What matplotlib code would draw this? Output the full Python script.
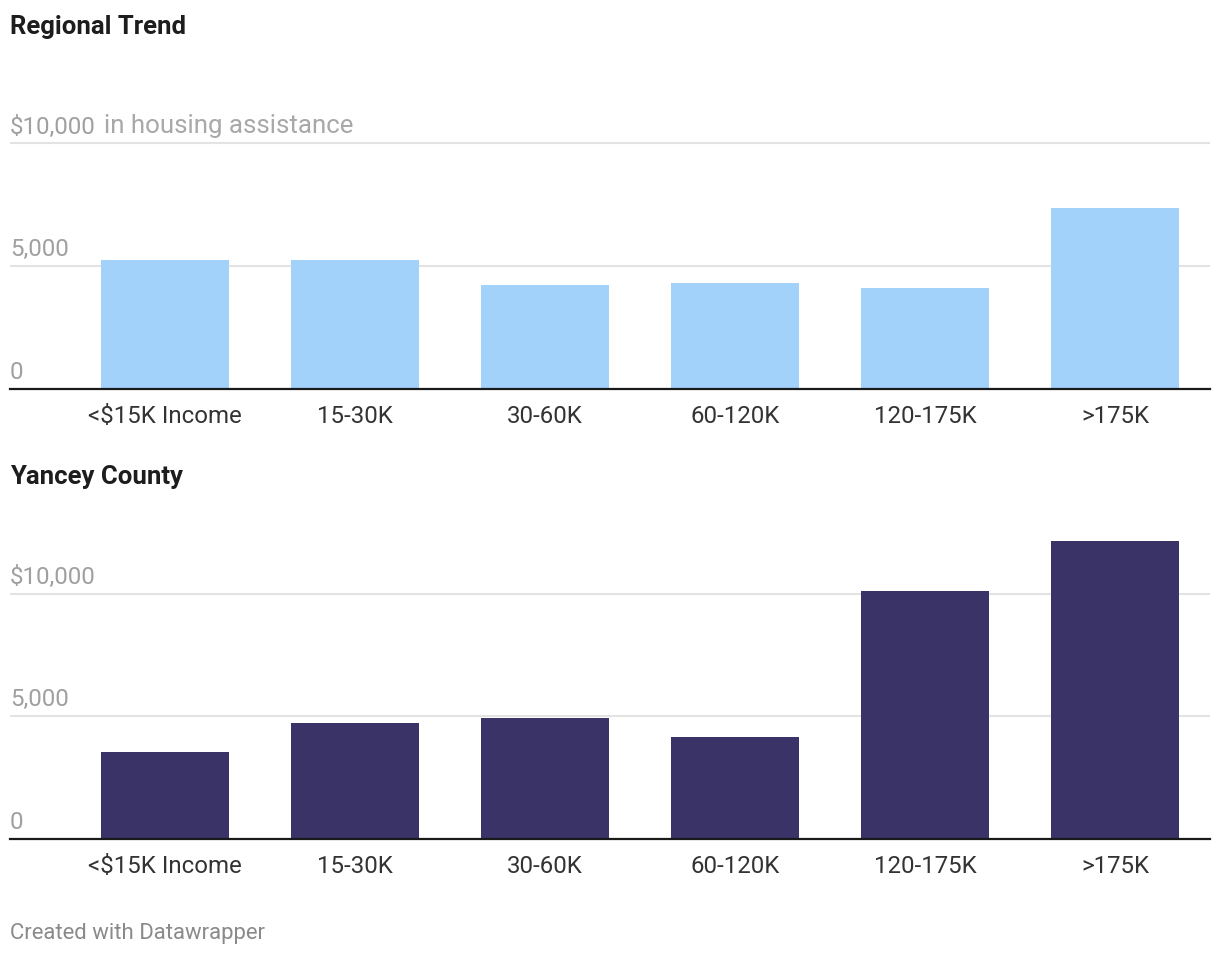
import matplotlib
matplotlib.use("Agg")
import matplotlib.pyplot as plt
from matplotlib.transforms import blended_transform_factory

plt.rcParams['font.family'] = ['Roboto', 'DejaVu Sans']

categories = ["<$15K Income", "15-30K", "30-60K", "60-120K", "120-175K", ">175K"]
regional_values = [5260, 5260, 4250, 4330, 4120, 7380]
yancey_values = [3550, 4730, 4940, 4160, 10100, 12140]
yticks = [0, 5000, 10000]
ytick_labels = ["0", "5,000", "$10,000"]
titles = ["Regional Trend", "Yancey County"]
subtitle_unit = "in housing assistance"
footer = "Created with Datawrapper"

W, H = 1220, 956
fig = plt.figure(figsize=(W / 100, H / 100), dpi=100)
fig.patch.set_facecolor("white")

px_per_unit = 122.9 / 5000.0
left_px, right_px = 10, 1210


def make_axes(baseline_px, ymax):
    height_px = ymax * px_per_unit
    ax = fig.add_axes([left_px / W, 1 - baseline_px / H, (right_px - left_px) / W, height_px / H])
    ax.set_ylim(0, ymax)
    ax.set_xlim(-0.816, 5.5)
    for s in ax.spines.values():
        s.set_visible(False)
    ax.set_yticks([])
    return ax


def draw(ax, values, color, unit_text):
    x = list(range(len(categories)))
    for yv in yticks[1:]:
        ax.axhline(yv, color="#e3e3e3", lw=1.5, zorder=0)
    ax.bar(x, values, width=0.674, color=color, zorder=2)
    ax.axhline(0, color="#1a1a1a", lw=1.6, zorder=3, clip_on=False)
    ax.set_xticks(x)
    ax.set_xticklabels(categories, fontsize=17.3, color="#333333")
    ax.tick_params(axis="x", length=0, pad=11)
    trans = blended_transform_factory(ax.transAxes, ax.transData)
    for yv, lab in zip(yticks, ytick_labels):
        ax.annotate(lab, xy=(0, yv), xycoords=trans, xytext=(0, 10),
                    textcoords="offset pixels", ha="left", va="baseline",
                    fontsize=17.4, color="#a0a0a0")
    if unit_text:
        ax.annotate(unit_text, xy=(0, yticks[-1]), xycoords=trans, xytext=(94, 10),
                    textcoords="offset pixels", ha="left", va="baseline",
                    fontsize=18.6, color="#a8a8a8")


ax1 = make_axes(389.3, 10600)
draw(ax1, regional_values, "#a2d1f9", subtitle_unit)
ax2 = make_axes(839.3, 13000)
draw(ax2, yancey_values, "#3a3368", None)

fig.text(10 / W, 1 - 27 / H, titles[0], fontsize=18.5, fontweight="bold",
         color="#1d1d1d", ha="left", va="center")
fig.text(10 / W, 1 - 477 / H, titles[1], fontsize=18.5, fontweight="bold",
         color="#1d1d1d", ha="left", va="center")
fig.text(10 / W, 1 - 933 / H, footer, fontsize=15.9, color="#8a8a8a",
         ha="left", va="center")

fig.savefig("out.png", dpi=100, facecolor="white")
